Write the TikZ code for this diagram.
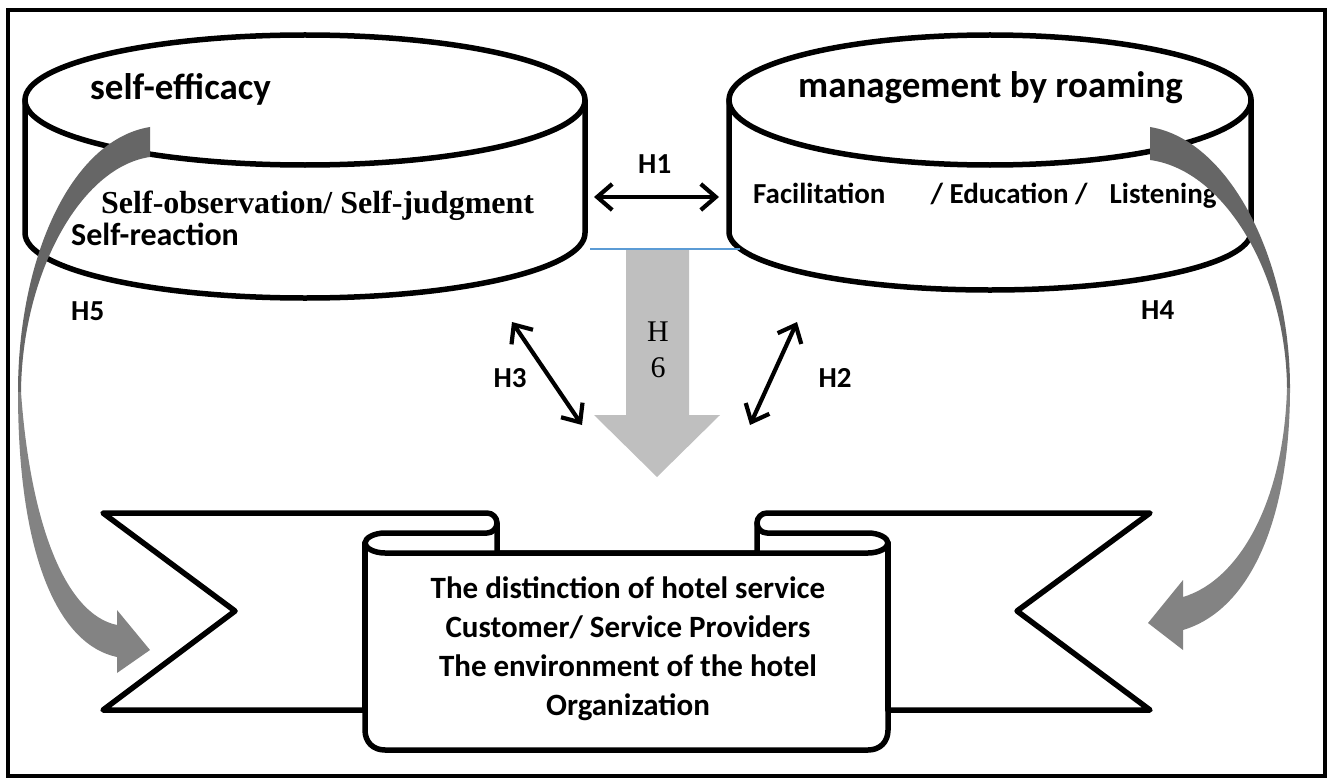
\documentclass[tikz,border=0pt]{standalone}
\usepackage{fontspec}
\setmainfont{Carlito}
\newfontfamily\timesfont{Liberation Serif}
\usepackage{tkz-euclide}
\usetikzlibrary{arrows.meta}
\definecolor{bandDark}{HTML}{666666}
\definecolor{bandLight}{HTML}{838383}
\definecolor{hsixGray}{HTML}{BFBFBF}
\definecolor{rimBlue}{HTML}{5B9BD5}
\tikzset{
    outline/.style={line width=5.5pt, line join=round, line cap=round},
    barb/.style={line width=4.2pt, {Straight Barb[length=15pt,width=26pt]}-{Straight Barb[length=15pt,width=26pt]}},
    titletext/.style={inner sep=0pt, font=\bfseries\fontsize{37}{44}\selectfont},
    itemtext/.style={inner sep=0pt, font=\bfseries\fontsize{32}{38}\selectfont},
    smalltext/.style={inner sep=0pt, font=\bfseries\fontsize{29}{34}\selectfont},
    serifitem/.style={inner sep=0pt, font=\timesfont\bfseries\fontsize{32}{38}\selectfont},
    hlabel/.style={inner sep=0pt, font=\bfseries\fontsize{29}{34}\selectfont},
    hsix/.style={inner sep=0pt, align=center, font=\timesfont\fontsize{30}{36}\selectfont},
    scrolltext/.style={inner sep=0pt, align=center, font=\bfseries\fontsize{31}{39}\selectfont}
}

\begin{document}
\begin{tikzpicture}[x=1pt,y=-1pt]
        \useasboundingbox (0,0) rectangle (1332,781);
        \tkzDefPoints{594/197/Aa,719/197/Ab,512/322/Ba,582/425/Bb,797/322/Ca,750/425/Cb,590/249/Da,740/249/Db}
        \draw[line width=4pt] (8,10) rectangle (1325,776);

        \draw[outline,fill=white] (25,100) -- (25,233) arc[start angle=180,end angle=0,x radius=280,y radius=65] -- (585,100);
        \draw[outline,fill=white] (305,100) ellipse[x radius=280,y radius=65];
        \draw[outline,fill=white] (729,100) -- (729,232) arc[start angle=180,end angle=0,x radius=261,y radius=58] -- (1251,100);
        \draw[outline,fill=white] (990,100) ellipse[x radius=261,y radius=65];

        \fill[hsixGray] (626,249) -- (689,249) -- (689,415) -- (720,415) -- (657,477) -- (594,415) -- (626,415) -- cycle;
        \draw[rimBlue,line width=1.3pt] (Da) -- (Db);

        \draw[outline,fill=white] (103,513) -- (487,513) .. controls (492.5,513) and (497,517.5) .. (497,523) -- (497,553) -- (757,553) -- (757,523) .. controls (757,517.5) and (761.5,513) .. (767,513) -- (1150,513) -- (1017,611) -- (1150,710) -- (888,710) -- (888,730) .. controls (888,742) and (880,750) .. (868,750) -- (385,750) .. controls (373,750) and (365,742) .. (365,730) -- (365,710) -- (103,710) -- (235,611) -- cycle;
        \draw[outline] (497,523) .. controls (497,528.5) and (492.5,533) .. (487,533) -- (385,533) .. controls (374,533) and (365,538) .. (365,543) .. controls (365,548) and (374,553) .. (385,553) -- (868,553) .. controls (879,553) and (888,548) .. (888,543) .. controls (888,538) and (879,533) .. (868,533) -- (767,533) .. controls (761.5,533) and (757,528.5) .. (757,523);
        \draw[outline] (365,543) -- (365,710);
        \draw[outline] (888,543) -- (888,710);

        \node[titletext,anchor=base west] (selfeff) at (90,100) {self-efficacy};
        \node[titletext,anchor=base west] (roaming) at (798,98) {management by roaming};
        \node[serifitem,anchor=base west] (observe) at (101,213) {Self-observation/ Self-judgment};
        \node[itemtext,anchor=base west] (react) at (71,245) {Self-reaction};
        \node[smalltext,anchor=base west] (facil) at (753,203) {Facilitation\hspace{45pt}/ Education /\hspace{22pt}Listening};
        \node[scrolltext] (hotel) at (628,649) {The distinction of hotel service\\Customer/ Service Providers\\The environment of the hotel\\Organization};

        \fill[bandDark] (150,127) .. controls (70,140) and (18,260) .. (18,392) -- (21,392) .. controls (22,275) and (80,167) .. (150,157) -- cycle;
        \fill[bandLight] (18,392) .. controls (18,560) and (60,645) .. (117,657) -- (117,673) -- (150,650) -- (117,610) -- (117,625) .. controls (64,614) and (30,520) .. (21,392) -- cycle;
        \fill[bandDark] (1150,127) .. controls (1230,140) and (1290,260) .. (1290,388) -- (1287,388) .. controls (1286,275) and (1225,170) .. (1150,160) -- cycle;
        \fill[bandLight] (1290,388) .. controls (1290,520) and (1250,610) .. (1183,630) -- (1183,650) -- (1148,623) -- (1183,580) -- (1183,597) .. controls (1240,580) and (1284,500) .. (1287,388) -- cycle;

        \draw[barb] (Aa) -- (Ab);
        \draw[barb] (Ba) -- (Bb);
        \draw[barb] (Ca) -- (Cb);

        \node[hlabel,anchor=base west] (hone) at (638,173) {H1};
        \node[hlabel] (htwo) at (835,378) {H2};
        \node[hlabel] (hthree) at (510,378) {H3};
        \node[hlabel,anchor=base west] (hfour) at (1141,319) {H4};
        \node[hlabel,anchor=base west] (hfive) at (71,320) {H5};
        \node[hsix] (hsixlabel) at (658,350) {H\\6};
\end{tikzpicture}
\end{document}
